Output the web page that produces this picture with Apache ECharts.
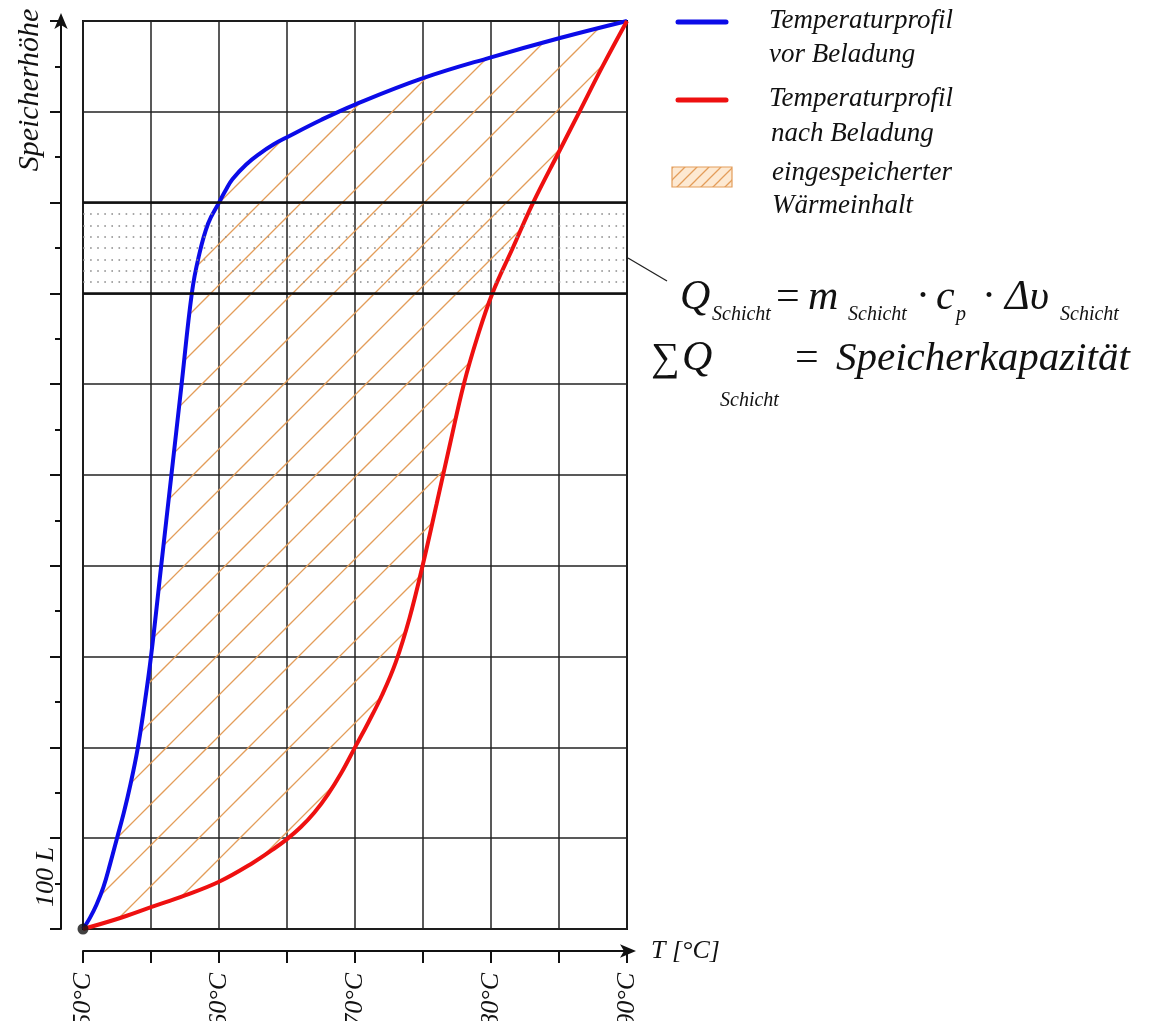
<!DOCTYPE html>
<html><head><meta charset="utf-8">
<script src="https://cdn.jsdelivr.net/npm/echarts@6/dist/echarts.min.js"></script>
<style>html,body{margin:0;padding:0;background:#fff}#c{width:1171px;height:1021px}</style>
</head><body><div id="c"></div>
<script>
// ---- data ----
const tempLabelValues = [50, 60, 70, 80, 90];
const heightUnitLabel = '100 L';
const blueProfile = [
  [50,0],[50.5,12],[51,27],[51.5,46],[52,72],[52.5,100],[53,128],[53.5,160],[54,197],
  [54.5,245],[55,300],[55.75,400],[56.5,500],[57.25,600],[58,700],[58.5,740],[59.2,777],
  [60,800],[60.5,814],[61,826],[62,842],[63,854],[64,864],[65,872],[67.5,891],[70,908],
  [75,937],[80,960],[85,981],[90,1000]
];
const redProfile = [
  [50,0],[52.5,11],[55,24],[57.5,37],[60,52],[62.5,73],[64,88],[65,99],[66,112],[67,128],
  [68,148],[69,172],[70,200],[71,228],[72,258],[73,294],[74,342],[75,402],[76,468],[77,535],
  [78,600],[79,652],[80.1,700],[81.6,750],[83.1,800],[85,856],[86.5,900],[88.2,950],[90,1000]
];
const layerEdges = [700, 800];
const layerDots = [712.5, 725, 737.5, 750, 762.5, 775, 787.5];
const legendNames = ['Temperaturprofil\nvor Beladung', 'Temperaturprofil\nnach Beladung', 'eingespeicherter\nWärmeinhalt'];

// ---- styles ----
const SERIF = '"Liberation Serif", "DejaVu Serif", "Times New Roman", serif';
const BLUE = '#0b0be8';
const RED = '#ee1010';
const HATCH = '#e39d5a';

function hatchPattern(size, color, lw, off) {
  const c = document.createElement('canvas');
  c.width = size; c.height = size;
  const g = c.getContext('2d');
  g.strokeStyle = color; g.lineWidth = lw;
  g.beginPath();
  for (let k = -1; k <= 2; k++) {
    const s = off + k * size;
    g.moveTo(-3, s + 3);
    g.lineTo(size + 3, s - size - 3);
  }
  g.stroke();
  return c;
}
const bigHatch = { image: hatchPattern(41, HATCH, 1.3, 12), repeat: 'repeat' };
function smallHatchCanvas() {
  const c = document.createElement('canvas');
  c.width = 12; c.height = 12;
  const g = c.getContext('2d');
  g.fillStyle = '#fde9d2'; g.fillRect(0, 0, 12, 12);
  g.strokeStyle = HATCH; g.lineWidth = 1.3;
  g.beginPath();
  for (let k = -1; k <= 2; k++) { const s = k * 12; g.moveTo(-3, s + 3); g.lineTo(15, s - 15); }
  g.stroke();
  return c;
}
const smallHatch = { image: smallHatchCanvas(), repeat: 'repeat' };

const chart = echarts.init(document.getElementById('c'), null, { renderer: 'canvas' });

const axisLineStyle = { color: '#111', width: 2 };
chart.setOption({
  animation: false,
  backgroundColor: '#fff',
  grid: { left: 83, right: 544, top: 21, bottom: 92, outerBoundsMode: 'none', containLabel: false,
    show: true, borderColor: '#111', borderWidth: 2, backgroundColor: 'transparent' },
  xAxis: {
    type: 'value', min: 50, max: 90, interval: 5, offset: 22,
    axisLine: { show: true, onZero: false, symbol: ['none', 'arrow'], symbolSize: [10, 16], symbolOffset: [0, 9], lineStyle: axisLineStyle },
    axisTick: { show: true, length: 12, lineStyle: { color: '#111', width: 2 } },
    axisLabel: {
      rotate: 90, margin: 22, color: '#111', fontFamily: SERIF, fontStyle: 'italic', fontSize: 26,
      formatter: v => tempLabelValues.indexOf(v) >= 0 ? v + '°C' : ''
    },
    splitLine: { show: true, lineStyle: { color: '#222', width: 1.5 } },
    name: 'T [°C]', nameLocation: 'end', nameGap: 24,
    nameTextStyle: { fontFamily: SERIF, fontStyle: 'italic', fontSize: 26, color: '#111', padding: [4, 0, 0, 0] }
  },
  yAxis: {
    type: 'value', min: 0, max: 1000, interval: 100, offset: 22,
    axisLine: { show: true, onZero: false, symbol: ['none', 'arrow'], symbolSize: [10, 16], symbolOffset: [0, 8], lineStyle: axisLineStyle },
    axisTick: { show: true, length: 11, lineStyle: { color: '#111', width: 2 } },
    minorTick: { show: true, splitNumber: 2, length: 6, lineStyle: { color: '#111', width: 2 } },
    axisLabel: { show: false },
    splitLine: { show: true, lineStyle: { color: '#222', width: 1.5 } }
  },
  series: [
    {
      name: legendNames[2], type: 'custom', z: 1, silent: true,
      data: [[50, 0]],
      renderItem: function (params, api) {
        const pts = blueProfile.map(p => api.coord(p))
          .concat(redProfile.slice().reverse().map(p => api.coord(p)));
        return { type: 'polygon', shape: { points: pts }, style: { fill: bigHatch, stroke: null } };
      }
    },
    {
      name: 'Schicht', type: 'line', data: [], z: 2, silent: true,
      markLine: {
        silent: true, symbol: 'none', label: { show: false }, animation: false,
        data: layerDots.map(v => ({ yAxis: v, lineStyle: { color: '#8a8a8a', width: 1.6, type: [1.6, 5.5] } }))
          .concat(layerEdges.map(v => ({ yAxis: v, lineStyle: { color: '#111', width: 2.5, type: 'solid' } })))
      }
    },
    {
      name: legendNames[0], type: 'line', z: 3, data: blueProfile, smooth: 0.4, symbol: 'none',
      lineStyle: { color: BLUE, width: 4 }
    },
    {
      name: legendNames[1], type: 'line', z: 3, data: redProfile, smooth: 0.4, symbol: 'none',
      lineStyle: { color: RED, width: 4 }
    },
    {
      name: 'origin', type: 'scatter', z: 4, data: [blueProfile[0]], symbolSize: 11,
      itemStyle: { color: '#111' }, silent: true
    }
  ]
});

function txt(text, x, y, size, italic, extra) {
  return Object.assign({
    type: 'text', x: x, y: y, silent: true, z: 10,
    style: { text: text, fontFamily: SERIF, fontStyle: italic ? 'italic' : 'normal', fontSize: size,
      fill: '#111', align: 'left', verticalAlign: 'middle' }
  }, extra || {});
}
function rtxt(text, x, y, size) {
  return { type: 'text', x: x, y: y, rotation: Math.PI / 2, silent: true, z: 10,
    style: { text: text, fontFamily: SERIF, fontStyle: 'italic', fontSize: size, fill: '#111', align: 'center', verticalAlign: 'middle' } };
}
const M = 42, S = 20;
const L1 = 298, L1s = 315, L2 = 359, L2s = 401;
const legendLines = legendNames.map(n => n.split('\n'));
const graphics = [
  rtxt('Speicherhöhe', 30, 90, 30),
  rtxt(heightUnitLabel, 46, 877, 26),
  // legend
  { type: 'line', shape: { x1: 678, y1: 22, x2: 726, y2: 22 }, style: { stroke: BLUE, lineWidth: 5, lineCap: 'round' }, z: 10 },
  { type: 'line', shape: { x1: 678, y1: 100, x2: 726, y2: 100 }, style: { stroke: RED, lineWidth: 5, lineCap: 'round' }, z: 10 },
  { type: 'rect', shape: { x: 672, y: 167, width: 60, height: 20 }, style: { fill: smallHatch, stroke: HATCH, lineWidth: 1.2 }, z: 10 },
  txt(legendLines[0][0], 769, 21, 27, true), txt(legendLines[0][1], 769, 55, 27, true),
  txt(legendLines[1][0], 769, 99, 27, true), txt(legendLines[1][1], 771, 134, 27, true),
  txt(legendLines[2][0], 772, 173, 27, true), txt(legendLines[2][1], 772, 206, 27, true),
  // leader line
  { type: 'line', shape: { x1: 628, y1: 258, x2: 667, y2: 281 }, style: { stroke: '#222', lineWidth: 1.3 }, z: 10 },
  // formula line 1
  txt('Q', 680, L1, M, true), txt('Schicht', 712, L1s, S, true),
  txt('=', 776, L1, M, false), txt('m', 808, L1, M, true), txt('Schicht', 848, L1s, S, true),
  txt('·', 916, L1, M, false), txt('c', 936, L1, M, true), txt('p', 956, L1s, S, true),
  txt('·', 982, L1, M, false), txt('Δυ', 1005, L1, M, true), txt('Schicht', 1060, L1s, S, true),
  // formula line 2
  txt('∑', 651, L2, 40, false), txt('Q', 682, L2, M, true), txt('Schicht', 720, L2s, S, true),
  txt('=', 795, L2, M, false), txt('Speicherkapazität', 836, L2, 41, true)
];
chart.setOption({ graphic: graphics });
</script>
</body></html>
